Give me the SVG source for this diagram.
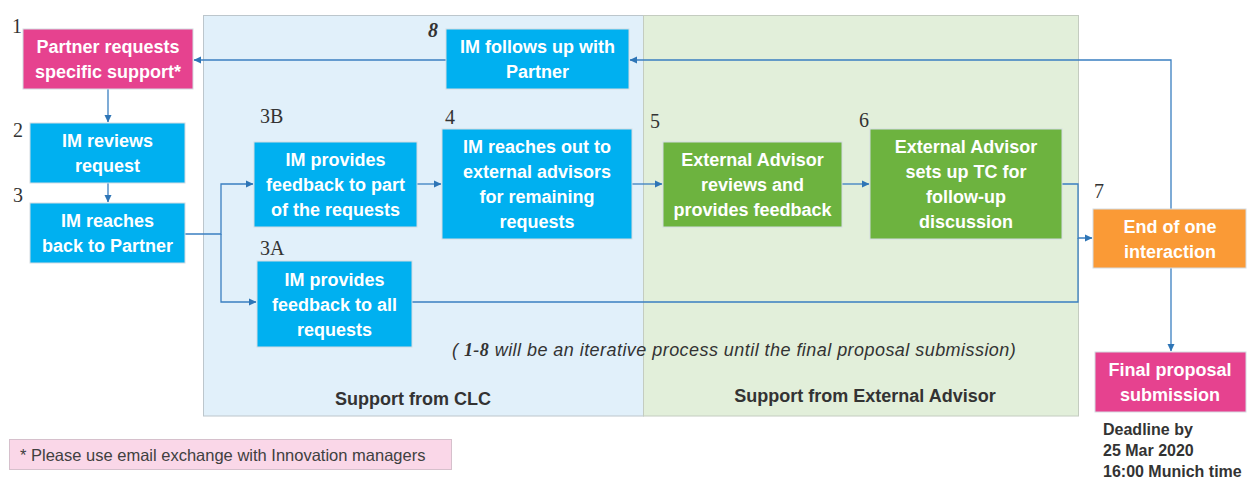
<svg xmlns="http://www.w3.org/2000/svg" width="1247" height="478" viewBox="0 0 1247 478">
<defs>
<marker id="arr" markerWidth="8" markerHeight="8" refX="7" refY="4" orient="auto" markerUnits="userSpaceOnUse">
<path d="M0,0.5 L7.5,4 L0,7.5 Z" fill="#2e75b6"/>
</marker>
<style>
.node{stroke:#d4dbe2;stroke-width:1}
.blue{fill:#00b0f0}
.green{fill:#6db33f}
.pink{fill:#e6428f}
.orange{fill:#fa9a36}
.nt{font-family:"Liberation Sans",Arial,sans-serif;font-weight:bold;font-size:18px;fill:#ffffff;text-anchor:middle}
.num{font-family:"Liberation Serif","DejaVu Serif",serif;font-size:20px;fill:#333333}
.lab{font-family:"Liberation Sans",Arial,sans-serif;font-weight:bold;font-size:18px;fill:#333333;text-anchor:middle}
.conn{fill:none;stroke:#3a7fc1;stroke-width:1.3}
</style>
</defs>
<rect width="1247" height="478" fill="#ffffff"/>
<g id="panels">
<rect x="203.5" y="15.5" width="440" height="400.5" fill="#e1f0fa" stroke="#bcc6cc" stroke-width="1"/>
<rect x="643.5" y="15.5" width="435" height="400.5" fill="#e2efda" stroke="#c4ccc0" stroke-width="1"/>
<text class="lab" x="413" y="405">Support from CLC</text>
<text class="lab" x="865" y="402">Support from External Advisor</text>
<text x="452" y="356" font-family="Liberation Sans,Arial,sans-serif" font-style="italic" font-size="18" letter-spacing="0.45" fill="#333333">( <tspan font-family="Liberation Serif,DejaVu Serif,serif" font-weight="bold">1-8</tspan> will be an iterative process until the final proposal submission)</text>
</g>
<g id="connectors">
<path class="conn" d="M108,89 V122" marker-end="url(#arr)"/>
<path class="conn" d="M108,183 V202" marker-end="url(#arr)"/>
<path class="conn" d="M185,234 H221 V184 H253" marker-end="url(#arr)"/>
<path class="conn" d="M221,234 V302 H256" marker-end="url(#arr)"/>
<path class="conn" d="M417,184 H441" marker-end="url(#arr)"/>
<path class="conn" d="M632,184 H662" marker-end="url(#arr)"/>
<path class="conn" d="M842,184 H869" marker-end="url(#arr)"/>
<path class="conn" d="M1062,184 H1078 V238 H1092" marker-end="url(#arr)"/>
<path class="conn" d="M412,302 H1078 V238"/>
<path class="conn" d="M1171,209 V60 H630" marker-end="url(#arr)"/>
<path class="conn" d="M446,60 H194" marker-end="url(#arr)"/>
<path class="conn" d="M1171,268 V351" marker-end="url(#arr)"/>
</g>
<g id="n1">
<rect class="node pink" x="23" y="29" width="170" height="60"/>
<text class="nt" x="108" y="53">Partner requests</text>
<text class="nt" x="108" y="78">specific support*</text>
<text class="num" x="12" y="33">1</text>
</g>
<g id="n2">
<rect class="node blue" x="30" y="123" width="155" height="60"/>
<text class="nt" x="107.5" y="147">IM reviews</text>
<text class="nt" x="107.5" y="172">request</text>
<text class="num" x="13" y="137">2</text>
</g>
<g id="n3">
<rect class="node blue" x="30" y="203" width="155" height="60"/>
<text class="nt" x="107.5" y="227">IM reaches</text>
<text class="nt" x="107.5" y="252">back to Partner</text>
<text class="num" x="13" y="202">3</text>
</g>
<g id="n3b">
<rect class="node blue" x="254" y="142" width="163" height="85"/>
<text class="nt" x="335.5" y="166">IM provides</text>
<text class="nt" x="335.5" y="191">feedback to part</text>
<text class="nt" x="335.5" y="216">of the requests</text>
<text class="num" x="260" y="123">3B</text>
</g>
<g id="n3a">
<rect class="node blue" x="257" y="261" width="155" height="86"/>
<text class="nt" x="334.5" y="285.5">IM provides</text>
<text class="nt" x="334.5" y="310.5">feedback to all</text>
<text class="nt" x="334.5" y="335.5">requests</text>
<text class="num" x="260" y="255">3A</text>
</g>
<g id="n4">
<rect class="node blue" x="442" y="129" width="190" height="110"/>
<text class="nt" x="537" y="153">IM reaches out to</text>
<text class="nt" x="537" y="178">external advisors</text>
<text class="nt" x="537" y="203">for remaining</text>
<text class="nt" x="537" y="228">requests</text>
<text class="num" x="445" y="124">4</text>
</g>
<g id="n5">
<rect class="node green" x="663" y="142" width="179" height="85"/>
<text class="nt" x="752.5" y="166">External Advisor</text>
<text class="nt" x="752.5" y="191">reviews and</text>
<text class="nt" x="752.5" y="216">provides feedback</text>
<text class="num" x="650" y="128">5</text>
</g>
<g id="n6">
<rect class="node green" x="870" y="129" width="192" height="110"/>
<text class="nt" x="966" y="153">External Advisor</text>
<text class="nt" x="966" y="178">sets up TC for</text>
<text class="nt" x="966" y="203">follow-up</text>
<text class="nt" x="966" y="228">discussion</text>
<text class="num" x="859" y="127">6</text>
</g>
<g id="n7">
<rect class="node orange" x="1093" y="209" width="153" height="59"/>
<text class="nt" x="1170" y="232.5">End of one</text>
<text class="nt" x="1170" y="257.5">interaction</text>
<text class="num" x="1094" y="198">7</text>
</g>
<g id="n8">
<rect class="node blue" x="446" y="29" width="183" height="60"/>
<text class="nt" x="537.5" y="53">IM follows up with</text>
<text class="nt" x="537.5" y="78">Partner</text>
<text class="num" x="428" y="37" font-weight="bold" font-style="italic">8</text>
</g>
<g id="final">
<rect class="node pink" x="1095" y="352" width="151" height="60"/>
<text class="nt" x="1170" y="376">Final proposal</text>
<text class="nt" x="1170" y="401">submission</text>
<text x="1103" y="435" font-family="Liberation Sans,Arial,sans-serif" font-weight="bold" font-size="16" fill="#333333">Deadline by</text>
<text x="1103" y="456" font-family="Liberation Sans,Arial,sans-serif" font-weight="bold" font-size="16" fill="#333333">25 Mar 2020</text>
<text x="1103" y="477" font-family="Liberation Sans,Arial,sans-serif" font-weight="bold" font-size="16" fill="#333333">16:00 Munich time</text>
</g>
<g id="note">
<rect x="9.5" y="439.5" width="442" height="30" fill="#fad7e8" stroke="#d6c0cc" stroke-width="1"/>
<text x="20" y="461" font-family="Liberation Sans,Arial,sans-serif" font-size="16.5" fill="#404040">* Please use email exchange with Innovation managers</text>
</g>
</svg>
